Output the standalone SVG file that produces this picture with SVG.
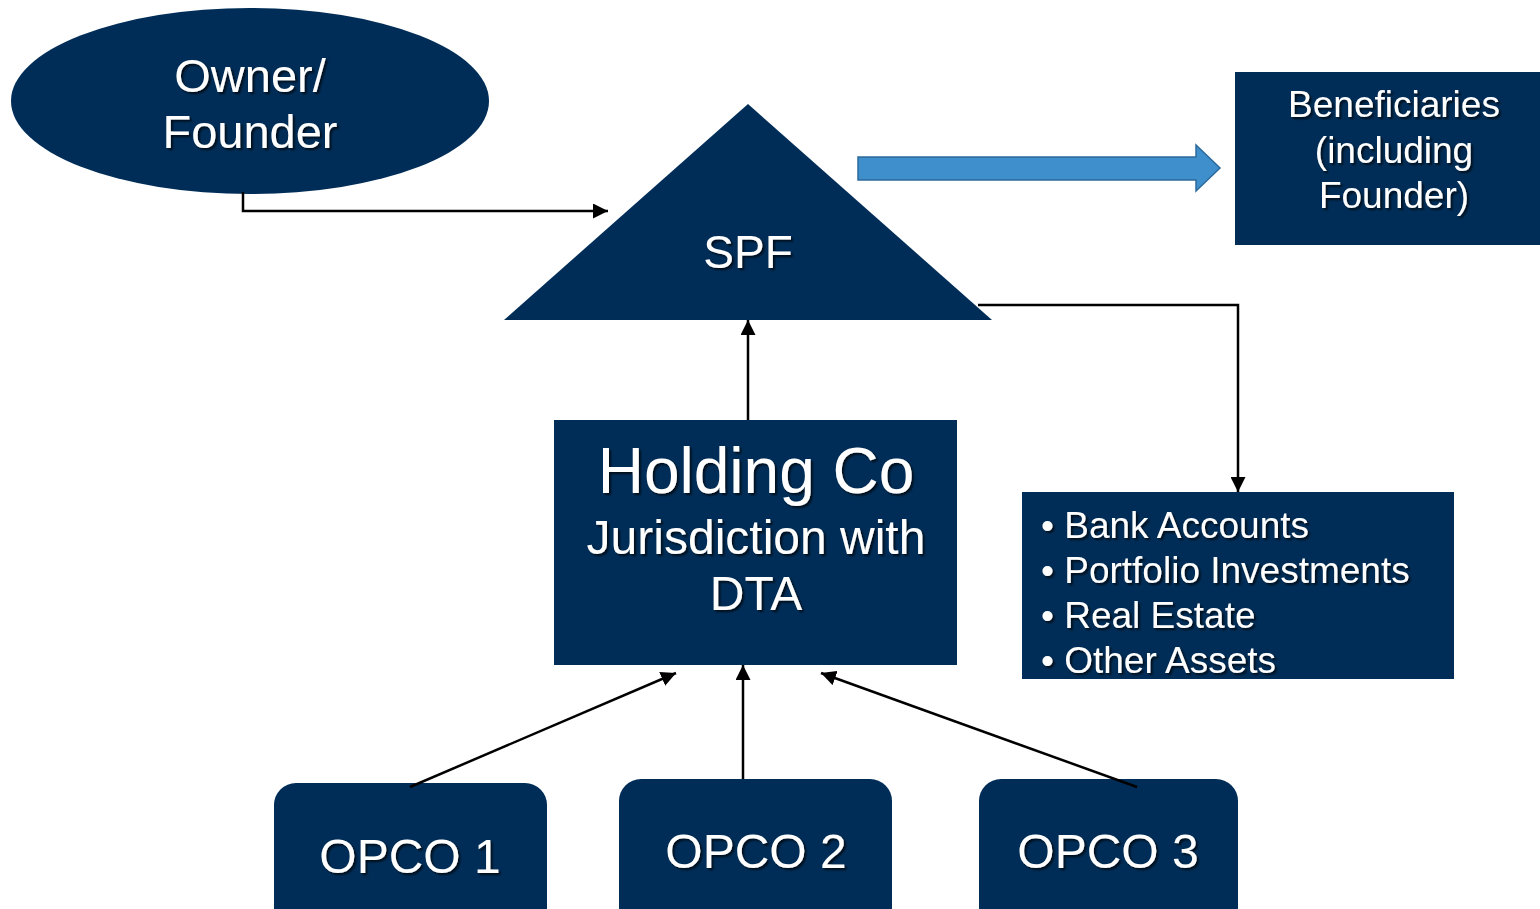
<svg xmlns="http://www.w3.org/2000/svg" width="1540" height="909" viewBox="0 0 1540 909">
<defs>
<style>
.node{fill:#002D57;}
.t{fill:#FFFFFF;font-family:"Liberation Sans",Arial,sans-serif;text-anchor:middle;filter:url(#sh);}
.tl{fill:#FFFFFF;font-family:"Liberation Sans",Arial,sans-serif;text-anchor:start;filter:url(#sh);}
.c{fill:none;stroke:#000000;stroke-width:2.5;}
</style>
<filter id="sh" x="-10%" y="-20%" width="130%" height="150%">
<feDropShadow dx="2" dy="2" stdDeviation="1" flood-color="#000000" flood-opacity="0.7"/>
</filter>
<marker id="ah" viewBox="0 0 10 10" refX="10" refY="5" markerWidth="6" markerHeight="6" markerUnits="strokeWidth" orient="auto">
<path d="M0,0 L10,5 L0,10 z" fill="#000000"/>
</marker>
</defs>
<rect width="1540" height="909" fill="#FFFFFF"/>

<g id="owner">
<ellipse class="node" cx="250" cy="101" rx="239" ry="93"/>
<text class="t" x="250" y="92" font-size="47">Owner/</text>
<text class="t" x="250" y="148" font-size="47">Founder</text>
</g>

<g id="spf">
<polygon class="node" points="748,104 992,320 504,320"/>
<text class="t" x="748" y="268" font-size="46">SPF</text>
</g>

<g id="beneficiaries">
<rect class="node" x="1235" y="72" width="305" height="173"/>
<text class="t" x="1394" y="117" font-size="37">Beneficiaries</text>
<text class="t" x="1394" y="163" font-size="37">(including</text>
<text class="t" x="1394" y="208" font-size="37">Founder)</text>
</g>

<g id="holding">
<rect class="node" x="554" y="420" width="403" height="245"/>
<text class="t" x="756" y="493" font-size="64">Holding Co</text>
<text class="t" x="756" y="554" font-size="48">Jurisdiction with</text>
<text class="t" x="756" y="610" font-size="48">DTA</text>
</g>

<g id="assets">
<rect class="node" x="1022" y="492" width="432" height="187"/>
<text class="tl" x="1041" y="538" font-size="37">• Bank Accounts</text>
<text class="tl" x="1041" y="583" font-size="37">• Portfolio Investments</text>
<text class="tl" x="1041" y="628" font-size="37">• Real Estate</text>
<text class="tl" x="1041" y="673" font-size="37">• Other Assets</text>
</g>

<g id="opco1">
<rect class="node" x="274" y="783" width="273" height="150" rx="22"/>
<text class="t" x="410" y="873" font-size="48">OPCO 1</text>
</g>
<g id="opco2">
<rect class="node" x="619" y="779" width="273" height="150" rx="22"/>
<text class="t" x="756" y="868" font-size="48">OPCO 2</text>
</g>
<g id="opco3">
<rect class="node" x="979" y="779" width="259" height="150" rx="22"/>
<text class="t" x="1108" y="868" font-size="48">OPCO 3</text>
</g>

<g id="connectors">
<polyline class="c" points="243,192 243,211 608,211" marker-end="url(#ah)"/>
<polyline class="c" points="978,305 1238,305 1238,492" marker-end="url(#ah)"/>
<line class="c" x1="748" y1="420" x2="748" y2="320" marker-end="url(#ah)"/>
<line class="c" x1="410" y1="787" x2="676" y2="673" marker-end="url(#ah)"/>
<line class="c" x1="743" y1="779" x2="743" y2="665" marker-end="url(#ah)"/>
<line class="c" x1="1137" y1="787" x2="821" y2="673" marker-end="url(#ah)"/>
<path d="M858,157 L1196,157 L1196,145 L1220,168 L1196,191 L1196,180 L858,180 Z" fill="#3F8FCD" stroke="#2C6A9C" stroke-width="1.5"/>
</g>
</svg>
